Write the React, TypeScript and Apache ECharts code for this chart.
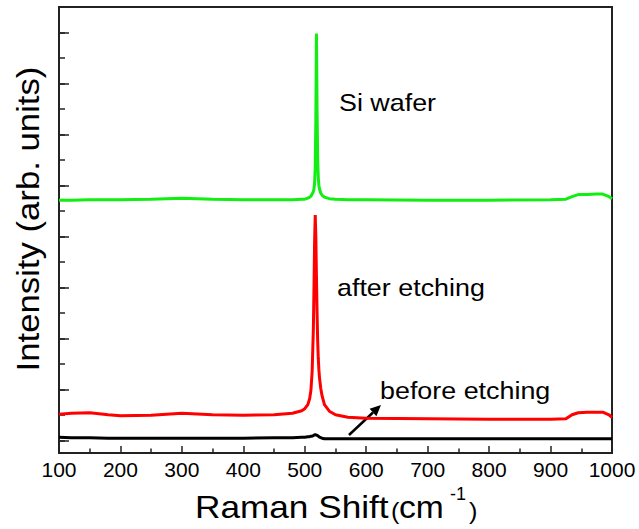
import React, { useEffect, useRef } from "react";
import * as echarts from "echarts";

const ramanShift = [100, 120, 150, 180, 200, 250, 300, 350, 400, 450, 480, 495, 500, 505, 508, 510, 512, 514, 515, 516, 517, 518, 519, 520, 521, 522, 523, 524, 526, 528, 532, 540, 550, 570, 600, 700, 800, 900, 925, 935, 945, 960, 975, 985, 995, 1000];

const siWafer = [3.71, 3.71, 3.72, 3.72, 3.72, 3.73, 3.75, 3.73, 3.72, 3.72, 3.72, 3.73, 3.73, 3.75, 3.77, 3.79, 3.83, 3.88, 3.93, 4.05, 4.35, 5.3, 6.98, 5.5, 4.5, 4.15, 4.0, 3.93, 3.85, 3.81, 3.77, 3.74, 3.73, 3.72, 3.72, 3.71, 3.71, 3.72, 3.73, 3.78, 3.82, 3.82, 3.83, 3.83, 3.78, 3.74];

const afterEtching = [-0.49, -0.47, -0.46, -0.5, -0.52, -0.51, -0.47, -0.5, -0.51, -0.5, -0.47, -0.42, -0.38, -0.3, -0.18, -0.02, 0.35, 1.2, 2.0, 2.9, 3.42, 3.0, 2.2, 1.5, 0.95, 0.6, 0.38, 0.22, 0.02, -0.12, -0.3, -0.43, -0.5, -0.55, -0.57, -0.58, -0.59, -0.59, -0.58, -0.5, -0.46, -0.45, -0.45, -0.45, -0.5, -0.55];

const beforeEtching = [-0.94, -0.95, -0.95, -0.96, -0.96, -0.96, -0.96, -0.96, -0.96, -0.95, -0.95, -0.94, -0.94, -0.93, -0.93, -0.92, -0.92, -0.91, -0.9, -0.9, -0.89, -0.89, -0.9, -0.9, -0.91, -0.92, -0.93, -0.94, -0.95, -0.96, -0.97, -0.97, -0.97, -0.97, -0.97, -0.97, -0.97, -0.97, -0.97, -0.97, -0.97, -0.97, -0.97, -0.97, -0.97, -0.97];

const xMin = 100;
const xMax = 1000;
const xInterval = 100;
const yMin = -1.25;
const yMax = 7.5;

const FONT = "'Liberation Sans', Arial, Helvetica, sans-serif";

function pairs(ys: number[]) {
  return ramanShift.map((x, i) => [x, ys[i]]);
}

export default function App() {
  const ref = useRef<HTMLDivElement>(null);
  useEffect(() => {
    document.body.style.margin = "0";
    const chart = echarts.init(ref.current!, null, { renderer: "svg" });
    const txt = (text: string, x: number, y: number, fontSize: number, extra: any = {}) => ({
      type: "text",
      x,
      y,
      scaleX: extra.scaleX ?? 1.12,
      rotation: extra.rotation ?? 0,
      style: {
        text,
        fontSize,
        fontFamily: FONT,
        fill: "#000",
        align: extra.align ?? "left",
        verticalAlign: "middle",
      },
    });
    chart.setOption({
      animation: false,
      backgroundColor: "#fff",
      grid: {
        left: 59,
        right: 27,
        top: 7,
        bottom: 76,
        show: true,
        borderColor: "#222",
        borderWidth: 2,
        backgroundColor: "transparent",
      },
      xAxis: {
        type: "value",
        min: xMin,
        max: xMax,
        interval: xInterval,
        axisLine: { show: true, onZero: false, lineStyle: { color: "#222", width: 2 } },
        axisTick: { show: true, inside: true, length: 7, lineStyle: { color: "#222", width: 1.5 } },
        minorTick: { show: true, splitNumber: 2, length: 4.5, lineStyle: { color: "#222", width: 1.5 } },
        axisLabel: {
          fontSize: 21,
          color: "#000",
          fontFamily: FONT,
          margin: 6,
          formatter: (v: number) => String(v),
        },
        splitLine: { show: false },
        minorSplitLine: { show: false },
      },
      yAxis: [
        {
          type: "value",
          min: yMin,
          max: yMax,
          splitNumber: 8,
          position: "left",
          offset: 0,
          axisLine: { show: true, onZero: false, lineStyle: { color: "#222", width: 2 } },
          axisTick: { show: true, inside: true, length: 10, lineStyle: { color: "#222", width: 1.5 } },
          axisLabel: { show: false },
          splitLine: { show: false },
        },
        {
          type: "value",
          min: yMin,
          max: yMax,
          splitNumber: 17,
          position: "left",
          offset: 0,
          axisLine: { show: false, onZero: false },
          axisTick: { show: true, inside: true, length: 6, lineStyle: { color: "#222", width: 1.5 } },
          axisLabel: { show: false },
          splitLine: { show: false },
        },
      ],
      series: [
        {
          name: "before etching",
          type: "line",
          data: pairs(beforeEtching),
          showSymbol: false,
          lineStyle: { color: "#000", width: 3 },
          z: 3,
        },
        {
          name: "after etching",
          type: "line",
          data: pairs(afterEtching),
          showSymbol: false,
          lineStyle: { color: "#ff0000", width: 3 },
          z: 3,
        },
        {
          name: "Si wafer",
          type: "line",
          data: pairs(siWafer),
          showSymbol: false,
          lineStyle: { color: "#11ee11", width: 3 },
          z: 3,
        },
      ],
      graphic: [
        txt("Si wafer", 339, 103, 24),
        txt("after etching", 337, 288, 24),
        txt("before etching", 380, 391, 24),
        {
          type: "line",
          shape: { x1: 349, y1: 435, x2: 373, y2: 412.5 },
          style: { stroke: "#000", lineWidth: 2.5 },
        },
        {
          type: "polygon",
          shape: { points: [[381, 405], [376.4, 416.2], [369.6, 408.8]] },
          style: { fill: "#000" },
        },
        txt("Intensity (arb. units)", 28, 219, 31, { rotation: Math.PI / 2, align: "center" }),
        txt("Raman Shift", 195, 507, 32, { scaleX: 1.1 }),
        txt("(", 391, 511, 23, { scaleX: 1.1 }),
        txt("cm", 399, 507, 32, { scaleX: 1.05 }),
        txt("-1", 450, 494, 18, { scaleX: 1.0 }),
        txt(")", 469, 511, 23, { scaleX: 1.1 }),
      ],
    });
    return () => chart.dispose();
  }, []);
  return (
    <div
      ref={ref}
      style={{ position: "absolute", left: 0, top: 0, width: 639, height: 529 }}
    />
  );
}
